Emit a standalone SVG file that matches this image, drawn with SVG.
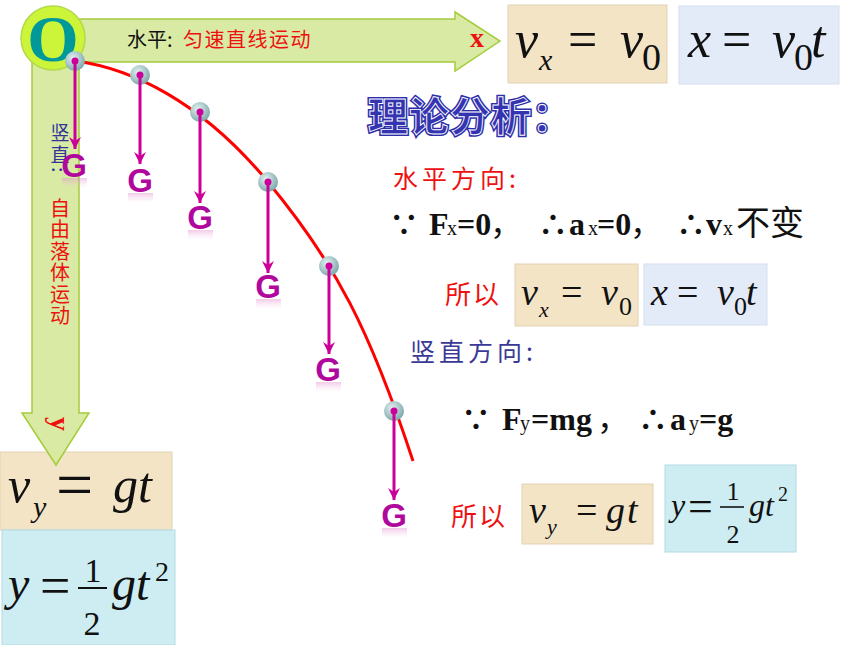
<svg xmlns="http://www.w3.org/2000/svg" width="860" height="645" viewBox="0 0 860 645">
<defs>
<style>
.beige{fill:#f3e4c6;stroke:#e2d2b2;stroke-width:1}
.lav{fill:#e4ebf8;stroke:#d6deee;stroke-width:1}
.aqua{fill:#cdedf3;stroke:#b3dbe4;stroke-width:1}
.m{font-family:"Liberation Serif","DejaVu Serif",serif;font-style:italic;fill:#111}
.r{font-family:"Liberation Serif","DejaVu Serif",serif;fill:#111}
.b{font-family:"Liberation Serif","DejaVu Serif",serif;font-weight:bold;fill:#111}
.cjk{font-family:"Noto Sans CJK SC",sans-serif}
.vt{writing-mode:vertical-rl;text-orientation:upright}
.vm{writing-mode:vertical-rl;text-orientation:mixed}
.g{font-family:"Liberation Sans",sans-serif;font-weight:bold;font-size:33px;fill:#b0089c;text-anchor:middle}
.force{stroke:#cc0099;stroke-width:3;fill:none;marker-end:url(#ah)}
.ball{fill:url(#bg)}
.refl{fill:url(#rf)}
</style>
<radialGradient id="bg" cx="0.4" cy="0.35" r="0.65">
<stop offset="0" stop-color="#e4f2f2"/>
<stop offset="1" stop-color="#7ea8ab"/>
</radialGradient>
<linearGradient id="rf" x1="0" y1="0" x2="0" y2="1">
<stop offset="0" stop-color="#e08acb" stop-opacity="0.45"/>
<stop offset="1" stop-color="#f4c8e8" stop-opacity="0"/>
</linearGradient>
<marker id="ah" markerUnits="userSpaceOnUse" markerWidth="12" markerHeight="12" refX="12" refY="6" orient="auto">
<path d="M0,0 L12,6 L0,12 L4,6 Z" fill="#cc0099"/>
</marker>
</defs>
<rect width="860" height="645" fill="#ffffff"/>

<g id="box-left">
<rect class="beige" x="0" y="452" width="172" height="78"/>
<text class="m" x="8" y="502" font-size="50">v</text>
<text class="m" x="33" y="517" font-size="30">y</text>
<text class="r" x="56" y="507" font-size="66">=</text>
<text class="m" x="113" y="502" font-size="50">g</text>
<text class="m" x="138" y="502" font-size="50">t</text>
<rect class="aqua" x="2" y="530" width="173" height="115"/>
<text class="m" x="8" y="600" font-size="48">y</text>
<text class="r" x="40" y="604" font-size="54">=</text>
<text class="r" x="93" y="582" font-size="34" text-anchor="middle">1</text>
<line x1="78" y1="588" x2="107" y2="588" stroke="#111" stroke-width="2"/>
<text class="r" x="92" y="635" font-size="34" text-anchor="middle">2</text>
<text class="m" x="112" y="600" font-size="48">g</text>
<text class="m" x="136" y="600" font-size="48">t</text>
<text class="r" x="155" y="581" font-size="28">2</text>
</g>

<g id="axes">
<path d="M32,40 V413 H22 L56,465 L89,413 H79 V62 H455 V71 L500,41 L455,12 V19 H50 Z" fill="#d6e99e" stroke="#a4cc3c" stroke-width="1.5" fill-opacity="0.95"/>
<text x="127" y="47" font-size="20" fill="#111" class="cjk">水平:</text>
<text x="183" y="47" font-size="20" fill="#ee1111" class="cjk" letter-spacing="1.5">匀速直线运动</text>
<text x="470" y="47" font-size="28" class="b" style="fill:#ee1111">x</text>
<text x="60" y="123" font-size="19" fill="#333399" class="cjk vm" letter-spacing="3">竖直:</text>
<text x="60" y="198" font-size="20" fill="#ee1111" class="cjk vt" letter-spacing="1.5">自由落体运动</text>
<text x="0" y="0" font-size="28" class="b" style="fill:#ee1111" text-anchor="middle" transform="translate(51,424) rotate(90)">y</text>
</g>

<g id="origin">
<circle cx="53" cy="38" r="32" fill="#ccf53a" stroke="#b2da4a" stroke-width="1.5"/>
<text x="53" y="61" font-size="66" font-weight="bold" font-family="Liberation Serif, serif" fill="#009999" text-anchor="middle">O</text>
</g>

<g id="trajectory">
<path d="M75,61 C130,68 200,100 268,182 S370,330 413,461" fill="none" stroke="#ff0000" stroke-width="3"/>
</g>

<g id="balls">
<circle class="ball" cx="75" cy="61" r="10"/>
<circle class="ball" cx="140" cy="75" r="10"/>
<circle class="ball" cx="200" cy="112" r="10"/>
<circle class="ball" cx="268" cy="182" r="10"/>
<circle class="ball" cx="329" cy="266" r="10"/>
<circle class="ball" cx="394" cy="411" r="10"/>
</g>

<g id="connectors">
<line class="force" x1="75" y1="61" x2="75" y2="149"/>
<line class="force" x1="140" y1="75" x2="140" y2="164"/>
<line class="force" x1="200" y1="112" x2="200" y2="203"/>
<line class="force" x1="268" y1="182" x2="268" y2="273"/>
<line class="force" x1="329" y1="266" x2="329" y2="354"/>
<line class="force" x1="394" y1="411" x2="394" y2="500"/>
<g fill="#cc0099">
<circle cx="75" cy="61" r="3.5"/>
<circle cx="140" cy="75" r="3.5"/>
<circle cx="200" cy="112" r="3.5"/>
<circle cx="268" cy="182" r="3.5"/>
<circle cx="329" cy="266" r="3.5"/>
<circle cx="394" cy="411" r="3.5"/>
</g>
</g>

<g id="gravity-labels">
<rect class="refl" x="62" y="178" width="25" height="10"/>
<rect class="refl" x="128" y="193" width="25" height="10"/>
<rect class="refl" x="188" y="230" width="25" height="10"/>
<rect class="refl" x="256" y="299" width="25" height="10"/>
<rect class="refl" x="316" y="382" width="25" height="10"/>
<rect class="refl" x="382" y="528" width="25" height="10"/>
<text class="g" x="74" y="177">G</text>
<text class="g" x="140" y="192">G</text>
<text class="g" x="200" y="229">G</text>
<text class="g" x="268" y="298">G</text>
<text class="g" x="328" y="381">G</text>
<text class="g" x="394" y="527">G</text>
</g>

<g id="box-top">
<rect class="beige" x="508" y="5" width="159" height="78"/>
<text class="m" x="515" y="57" font-size="52">v</text>
<text class="m" x="539" y="70" font-size="30">x</text>
<text class="r" x="568" y="57" font-size="52">=</text>
<text class="m" x="620" y="57" font-size="52">v</text>
<text class="r" x="642" y="70" font-size="38">0</text>
<rect class="lav" x="679" y="6" width="160" height="78"/>
<text class="m" x="688" y="57" font-size="52">x</text>
<text class="r" x="722" y="57" font-size="52">=</text>
<text class="m" x="772" y="57" font-size="52">v</text>
<text class="r" x="794" y="70" font-size="38">0</text>
<text class="m" x="811" y="57" font-size="52">t</text>
</g>

<g id="analysis">
<text x="368" y="131" font-size="40" font-weight="bold" class="cjk" fill="#2e2ea8" stroke="#2e2ea8" stroke-width="4" letter-spacing="1">理论分析：</text>
<text x="368" y="131" font-size="40" font-weight="bold" class="cjk" fill="#3434b0" stroke="#ffffff" stroke-width="0.9" letter-spacing="1">理论分析：</text>
<text x="393" y="188" font-size="25" class="cjk" fill="#ee1111" letter-spacing="4">水平方向:</text>
<text x="389" y="235" font-size="30" class="cjk" font-weight="bold" fill="#111">∵</text>
<text class="b" x="429" y="235" font-size="32">F</text>
<text class="r" x="447" y="235" font-size="20">x</text>
<text class="b" x="457" y="235" font-size="32">=0</text>
<text class="cjk" x="490" y="235" font-size="32" fill="#111">，</text>
<text x="538" y="235" font-size="30" class="cjk" font-weight="bold" fill="#111">∴</text>
<text class="b" x="569" y="235" font-size="32">a</text>
<text class="r" x="588" y="235" font-size="20">x</text>
<text class="b" x="597" y="235" font-size="32">=0</text>
<text class="cjk" x="630" y="235" font-size="32" fill="#111">，</text>
<text x="676" y="235" font-size="30" class="cjk" font-weight="bold" fill="#111">∴</text>
<text class="b" x="706" y="235" font-size="32">v</text>
<text class="r" x="723" y="235" font-size="20">x</text>
<text class="cjk" x="736" y="235" font-size="34" fill="#111">不变</text>
<text x="445" y="304" font-size="26" class="cjk" fill="#ee1111" letter-spacing="2">所以</text>
<rect class="beige" x="515" y="264" width="123" height="62"/>
<text class="m" x="521" y="305" font-size="38">v</text>
<text class="m" x="539" y="317" font-size="22">x</text>
<text class="r" x="561" y="305" font-size="38">=</text>
<text class="m" x="601" y="305" font-size="38">v</text>
<text class="r" x="619" y="315" font-size="26">0</text>
<rect class="lav" x="644" y="264" width="123" height="61"/>
<text class="m" x="651" y="305" font-size="38">x</text>
<text class="r" x="677" y="305" font-size="38">=</text>
<text class="m" x="717" y="305" font-size="38">v</text>
<text class="r" x="734" y="315" font-size="26">0</text>
<text class="m" x="746" y="305" font-size="38">t</text>
<text x="410" y="361" font-size="25" class="cjk" fill="#3a3a96" letter-spacing="4">竖直方向:</text>
<text x="461" y="430" font-size="30" class="cjk" font-weight="bold" fill="#111">∵</text>
<text class="b" x="502" y="430" font-size="32">F</text>
<text class="r" x="520" y="430" font-size="20">y</text>
<text class="b" x="531" y="430" font-size="32">=mg</text>
<text class="cjk" x="597" y="430" font-size="32" fill="#111">，</text>
<text x="638" y="430" font-size="30" class="cjk" font-weight="bold" fill="#111">∴</text>
<text class="b" x="670" y="430" font-size="32">a</text>
<text class="r" x="689" y="430" font-size="20">y</text>
<text class="b" x="699" y="430" font-size="32">=g</text>
<text x="451" y="526" font-size="26" class="cjk" fill="#ee1111" letter-spacing="2">所以</text>
<rect class="beige" x="522" y="484" width="131" height="60"/>
<text class="m" x="529" y="523" font-size="38">v</text>
<text class="m" x="547" y="534" font-size="22">y</text>
<text class="r" x="576" y="523" font-size="38">=</text>
<text class="m" x="606" y="523" font-size="38">g</text>
<text class="m" x="627" y="523" font-size="38">t</text>
<rect class="aqua" x="665" y="465" width="131" height="87"/>
<text class="m" x="671" y="516" font-size="32">y</text>
<text class="r" x="688" y="521" font-size="44">=</text>
<text class="r" x="733" y="500" font-size="26" text-anchor="middle">1</text>
<line x1="720" y1="507" x2="744" y2="507" stroke="#111" stroke-width="1.6"/>
<text class="r" x="733" y="543" font-size="26" text-anchor="middle">2</text>
<text class="m" x="749" y="516" font-size="32">g</text>
<text class="m" x="765" y="516" font-size="32">t</text>
<text class="r" x="778" y="501" font-size="20">2</text>
</g>
</svg>
